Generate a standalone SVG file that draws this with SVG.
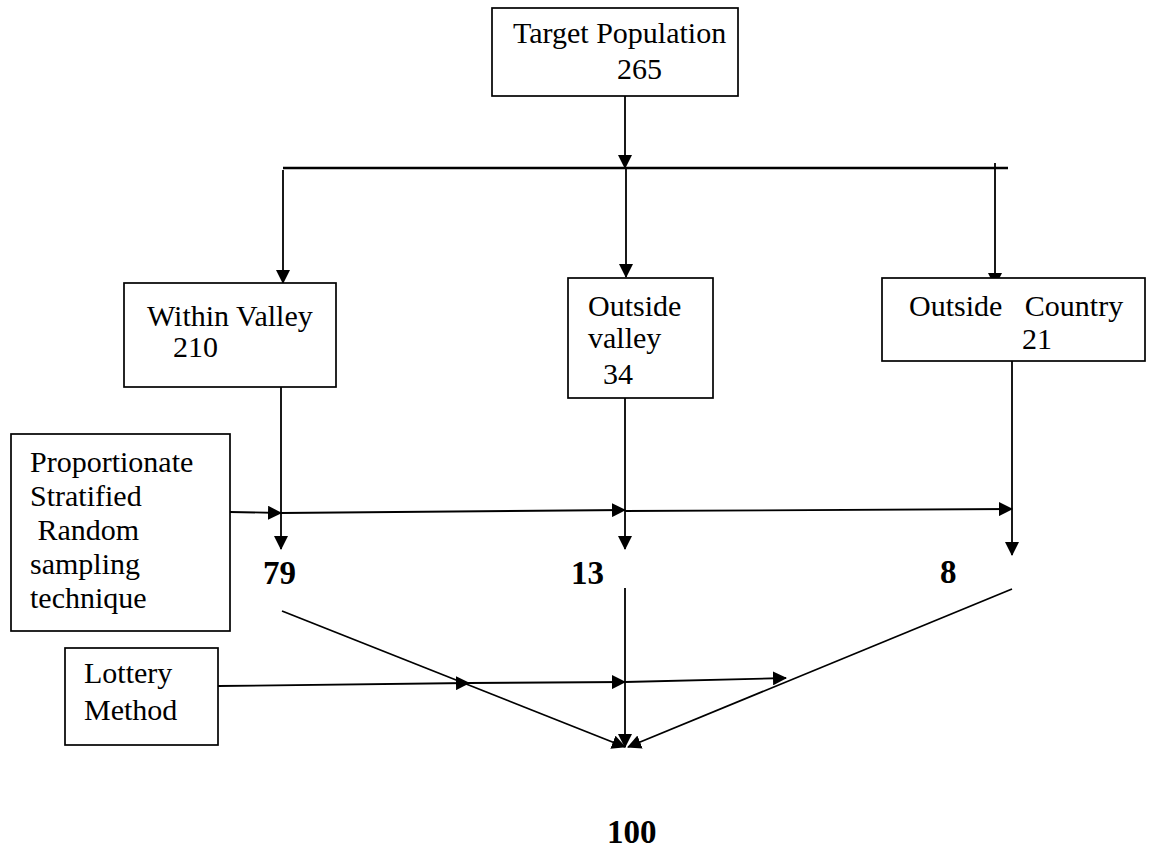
<svg xmlns="http://www.w3.org/2000/svg" width="1156" height="852" viewBox="0 0 1156 852">
<defs>
<style>
.box{fill:#fff;stroke:#000;stroke-width:1.7}
.t{font-family:"Liberation Serif","Times New Roman",serif;font-size:30px;fill:#000;white-space:pre}
.b{font-family:"Liberation Serif","Times New Roman",serif;font-size:33px;font-weight:bold;fill:#000}
.c{fill:none;stroke:#000;stroke-width:1.8}
.c2{fill:none;stroke:#000;stroke-width:2.4}
</style>
<marker id="ah" markerUnits="userSpaceOnUse" markerWidth="14" markerHeight="14" refX="13" refY="7" orient="auto" viewBox="0 0 14 14">
<path d="M0,0 L14,7 L0,14 z" fill="#000"/>
</marker>
</defs>
<rect width="1156" height="852" fill="#fff"/>
<g id="connectors">
<line class="c" x1="625" y1="96" x2="625" y2="168" marker-end="url(#ah)"/>
<line class="c2" x1="283" y1="168" x2="1008" y2="168"/>
<line class="c" x1="283" y1="170" x2="283" y2="283" marker-end="url(#ah)"/>
<line class="c" x1="626" y1="168" x2="626" y2="277" marker-end="url(#ah)"/>
<line class="c" x1="995" y1="163" x2="995" y2="286" marker-end="url(#ah)"/>
<line class="c" x1="281" y1="387" x2="281" y2="549" marker-end="url(#ah)"/>
<line class="c" x1="625" y1="398" x2="625" y2="549" marker-end="url(#ah)"/>
<line class="c" x1="1012" y1="361" x2="1012" y2="555" marker-end="url(#ah)"/>
<line class="c" x1="230" y1="512" x2="281" y2="513" marker-end="url(#ah)"/>
<line class="c" x1="281" y1="513" x2="625" y2="510" marker-end="url(#ah)"/>
<line class="c" x1="625" y1="511" x2="1012" y2="509" marker-end="url(#ah)"/>
<line class="c" x1="282" y1="611" x2="625" y2="747" marker-end="url(#ah)"/>
<line class="c" x1="625" y1="588" x2="625" y2="747" marker-end="url(#ah)"/>
<line class="c" x1="1012" y1="589" x2="628" y2="747" marker-end="url(#ah)"/>
<line class="c" x1="218" y1="686" x2="469" y2="683" marker-end="url(#ah)"/>
<line class="c" x1="469" y1="683" x2="625" y2="682" marker-end="url(#ah)"/>
<line class="c" x1="625" y1="682" x2="786" y2="678" marker-end="url(#ah)"/>
</g>
<g id="target">
<rect class="box" x="492" y="8" width="246" height="88"/>
<text class="t"><tspan x="513" y="43">Target Population</tspan><tspan x="617" y="79">265</tspan></text>
</g>
<g id="within">
<rect class="box" x="124" y="283" width="212" height="104"/>
<text class="t"><tspan x="147" y="326">Within Valley</tspan><tspan x="173" y="357">210</tspan></text>
</g>
<g id="outsidevalley">
<rect class="box" x="568" y="278" width="145" height="120"/>
<text class="t"><tspan x="588" y="316">Outside</tspan><tspan x="588" y="348">valley</tspan><tspan x="603" y="384">34</tspan></text>
</g>
<g id="outsidecountry">
<rect class="box" x="882" y="278" width="263" height="83"/>
<text class="t"><tspan x="909" y="316">Outside   Country</tspan><tspan x="1022" y="349">21</tspan></text>
</g>
<g id="proportionate">
<rect class="box" x="11" y="434" width="219" height="197"/>
<text class="t"><tspan x="30" y="472">Proportionate</tspan><tspan x="30" y="506">Stratified</tspan><tspan x="30" y="540"> Random</tspan><tspan x="30" y="574">sampling</tspan><tspan x="30" y="608">technique</tspan></text>
</g>
<g id="lottery">
<rect class="box" x="65" y="648" width="153" height="97"/>
<text class="t"><tspan x="84" y="683">Lottery</tspan><tspan x="84" y="720">Method</tspan></text>
</g>
<g id="n79"><text class="b" x="263" y="584">79</text></g>
<g id="n13"><text class="b" x="571" y="584">13</text></g>
<g id="n8"><text class="b" x="940" y="583">8</text></g>
<g id="n100"><text class="b" x="607" y="843">100</text></g>
</svg>
